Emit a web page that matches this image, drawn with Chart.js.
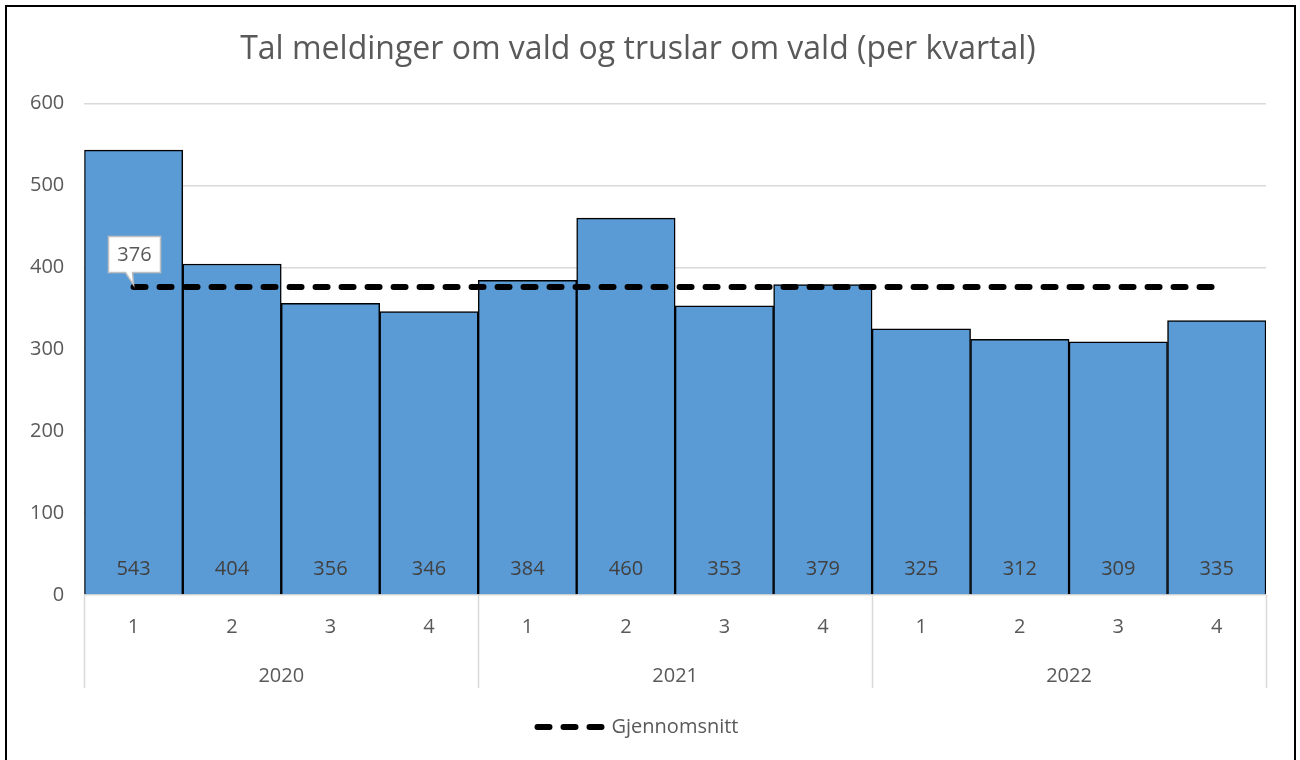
<!DOCTYPE html>
<html>
<head>
<meta charset="utf-8">
<script src="https://cdn.jsdelivr.net/npm/chart.js@4"></script>
<style>
  body { margin: 0; background: #fff; }
  #frame { position: absolute; left: 5px; top: 5px; width: 1291px; height: 770px; border: 2px solid #000; border-bottom: none; box-sizing: border-box; }
  #wrap { position: absolute; left: 0; top: 0; width: 1287px; height: 753px; }
</style>
</head>
<body>
<div id="frame"><div id="wrap"><canvas id="chart"></canvas></div></div>
<script>
const quarters = ['1', '2', '3', '4', '1', '2', '3', '4', '1', '2', '3', '4'];
const years = ['2020', '2021', '2022'];
const meldingar = [543, 404, 356, 346, 384, 460, 353, 379, 325, 312, 309, 335];
const snitt = [376, 376, 376, 376, 376, 376, 376, 376, 376, 376, 376, 376];
const yTicks = [0, 100, 200, 300, 400, 500, 600];

const FONT = '"Open Sans", "Noto Sans", sans-serif';
const GREY = '#595959';
const GRID = '#D9D9D9';

// tal nedst i kvar stolpe, skiljeliner for år og merkelapp for snittet
const extras = {
  id: 'extras',
  afterDraw(chart) {
    const ctx = chart.ctx;
    const area = chart.chartArea;
    const x = chart.scales.x;
    const xYear = chart.scales.xYear;

    ctx.save();
    ctx.font = '20px ' + FONT;
    ctx.fillStyle = '#404040';
    ctx.textAlign = 'center';
    ctx.textBaseline = 'middle';
    chart.getDatasetMeta(0).data.forEach((bar, i) => {
      ctx.fillText(String(meldingar[i]), bar.x, bar.base - 25);
    });

    // skiljeliner mellom åra
    const step = x.getPixelForValue(1) - x.getPixelForValue(0);
    const lineEnd = area.bottom + 93;
    ctx.strokeStyle = GRID;
    ctx.lineWidth = 1.5;
    for (let i = 0; i <= quarters.length; i += 4) {
      const px = Math.round(x.getPixelForValue(0) - step / 2 + i * step) + 0.5;
      ctx.beginPath();
      ctx.moveTo(px, area.bottom);
      ctx.lineTo(px, lineEnd);
      ctx.stroke();
    }

    // merkelapp "376"
    const p = chart.getDatasetMeta(1).data[0];
    const w = 52, h = 36;
    const left = Math.round(p.x - 26) + 0.5, top = Math.round(p.y - 51) + 0.5;
    ctx.beginPath();
    ctx.moveTo(left, top);
    ctx.lineTo(left + w, top);
    ctx.lineTo(left + w, top + h);
    ctx.lineTo(p.x - 1, top + h);
    ctx.lineTo(p.x, p.y - 2);
    ctx.lineTo(p.x - 8, top + h);
    ctx.lineTo(left, top + h);
    ctx.closePath();
    ctx.fillStyle = '#fff';
    ctx.fill();
    ctx.strokeStyle = '#BFBFBF';
    ctx.lineWidth = 1.5;
    ctx.stroke();
    ctx.fillStyle = GREY;
    ctx.font = '20px ' + FONT;
    ctx.fillText(String(snitt[0]), left + w / 2, top + h / 2 + 1);
    ctx.restore();
  }
};

new Chart(document.getElementById('chart'), {
  type: 'bar',
  data: {
    labels: quarters,
    datasets: [
      {
        label: 'Meldingar',
        data: meldingar,
        backgroundColor: '#5B9BD5',
        borderColor: '#000',
        borderWidth: 1.5,
        categoryPercentage: 1,
        barPercentage: 1,
        order: 2
      },
      {
        type: 'line',
        label: 'Gjennomsnitt',
        data: snitt,
        borderColor: '#000',
        backgroundColor: '#000',
        borderWidth: 6,
        borderDash: [12, 14],
        borderCapStyle: 'round',
        pointRadius: 0,
        fill: false,
        order: 1
      }
    ]
  },
  options: {
    responsive: true,
    maintainAspectRatio: false,
    animation: false,
    layout: { padding: { left: 3, right: 28, bottom: 13 } },
    plugins: {
      title: {
        display: true,
        text: 'Tal meldinger om vald og truslar om vald (per kvartal)',
        color: GREY,
        font: { family: FONT, size: 32, weight: 'normal' },
        padding: { top: 24, bottom: 34 }
      },
      legend: {
        position: 'bottom',
        labels: {
          usePointStyle: true,
          pointStyleWidth: 64,
          color: GREY,
          font: { family: FONT, size: 20 },
          padding: 20,
          generateLabels: chart => [{
            text: chart.data.datasets[1].label,
            datasetIndex: 1,
            hidden: false,
            fillStyle: '#000',
            strokeStyle: '#000',
            fontColor: GREY,
            lineWidth: 6,
            lineDash: [12, 14],
            lineCap: 'round',
            pointStyle: 'line'
          }]
        }
      },
      tooltip: { enabled: false }
    },
    scales: {
      x: {
        offset: true,
        grid: { display: false },
        border: { display: false },
        ticks: { color: GREY, font: { family: FONT, size: 20 }, padding: 12 }
      },
      xYear: {
        type: 'category',
        labels: years,
        position: 'bottom',
        offset: true,
        grid: { display: false },
        border: { display: false },
        ticks: { color: GREY, font: { family: FONT, size: 20 }, padding: 5 },
        afterFit: axis => { axis.height += 4; }
      },
      y: {
        min: 0,
        max: 600,
        afterBuildTicks: axis => { axis.ticks = yTicks.map(v => ({ value: v })); },
        grid: { color: GRID, lineWidth: 1.5, drawTicks: false },
        border: { display: false },
        ticks: { color: GREY, font: { family: FONT, size: 20 }, padding: 20 }
      }
    }
  },
  plugins: [extras]
});
</script>
</body>
</html>
